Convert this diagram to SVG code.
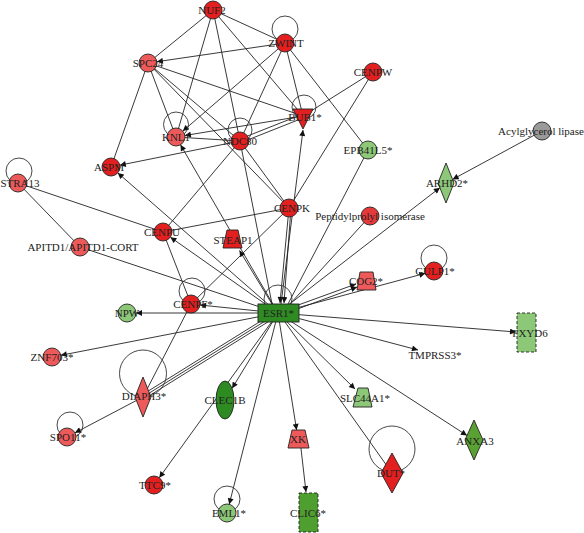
<svg xmlns="http://www.w3.org/2000/svg" width="584" height="533" viewBox="0 0 584 533">
<defs>
<marker id="arr" viewBox="0 0 10 10" refX="10" refY="5" markerWidth="7" markerHeight="6" markerUnits="userSpaceOnUse" orient="auto"><path d="M0,0 L10,5 L0,10 z" fill="#111"/></marker>
<style>
.e{stroke:#222;stroke-width:0.9;fill:none}
.a{stroke:#222;stroke-width:0.9;fill:none;marker-end:url(#arr)}
.lp{stroke:#333;stroke-width:0.9;fill:none}
.n{stroke:#222;stroke-width:0.9}
.d{stroke:#222;stroke-width:0.9;stroke-dasharray:3 2}
.r1{fill:#e3201f}
.r2{fill:#ee5a5a}
.r3{fill:#e63a3a}
.g1{fill:#2e8b22}
.g2{fill:#4f9e30}
.g3{fill:#5aa134}
.g4{fill:#8dc878}
.gy{fill:#9a9a9a}
text{font-family:"Liberation Serif",serif;font-size:11px;fill:#222;text-anchor:middle}
</style>
</defs>
<rect width="584" height="533" fill="#ffffff"/>
<g id="edges">
<line class="e" x1="213" y1="10" x2="148" y2="63"/>
<line class="e" x1="213" y1="10" x2="285" y2="43"/>
<line class="e" x1="213" y1="10" x2="176" y2="137"/>
<line class="e" x1="213" y1="10" x2="240" y2="141"/>
<line class="e" x1="213" y1="10" x2="303" y2="116"/>
<line class="e" x1="285" y1="43" x2="240" y2="141"/>
<line class="e" x1="285" y1="43" x2="303" y2="116"/>
<line class="e" x1="285" y1="43" x2="368" y2="150"/>
<line class="e" x1="148" y1="63" x2="176" y2="137"/>
<line class="e" x1="148" y1="63" x2="303" y2="116"/>
<line class="e" x1="148" y1="63" x2="240" y2="141"/>
<line class="e" x1="148" y1="63" x2="289" y2="208"/>
<line class="e" x1="148" y1="63" x2="111" y2="167"/>
<line class="e" x1="373" y1="72" x2="303" y2="116"/>
<line class="e" x1="373" y1="72" x2="289" y2="208"/>
<line class="e" x1="303" y1="114" x2="240" y2="139"/>
<line class="e" x1="303" y1="118" x2="240" y2="143"/>
<line class="e" x1="240" y1="141" x2="176" y2="137"/>
<line class="e" x1="240" y1="141" x2="163" y2="232"/>
<line class="e" x1="240" y1="141" x2="289" y2="208"/>
<line class="e" x1="240" y1="141" x2="272" y2="304"/>
<line class="e" x1="163" y1="232" x2="289" y2="208"/>
<line class="e" x1="18" y1="183" x2="163" y2="232"/>
<line class="e" x1="18" y1="183" x2="80" y2="247"/>
<line class="e" x1="80" y1="247" x2="278" y2="313"/>
<line class="e" x1="191" y1="304" x2="163" y2="232"/>
<line class="e" x1="191" y1="304" x2="289" y2="208"/>
<line class="e" x1="191" y1="304" x2="143" y2="397"/>
<line class="e" x1="368" y1="150" x2="288" y2="304"/>
<line class="e" x1="370" y1="216" x2="290" y2="304"/>
<line class="e" x1="270" y1="318" x2="149.4" y2="393"/>
<line class="e" x1="271.2" y1="319.9" x2="150.6" y2="394.9"/>
<line class="e" x1="268.8" y1="316.1" x2="148.2" y2="391.1"/>
<line class="e" x1="285" y1="322" x2="392" y2="473"/>
<line class="a" x1="278" y1="313" x2="180.5" y2="144.8"/>
<line class="a" x1="278" y1="313" x2="117.8" y2="172.9"/>
<line class="a" x1="278" y1="313" x2="170.4" y2="237.2"/>
<line class="a" x1="272" y1="304" x2="239.5" y2="250.5"/>
<line class="a" x1="278" y1="313" x2="200" y2="305"/>
<line class="a" x1="278" y1="313" x2="136" y2="313"/>
<line class="a" x1="278" y1="313" x2="60.8" y2="355.3"/>
<line class="a" x1="143" y1="397" x2="75" y2="432.8"/>
<line class="a" x1="278" y1="313" x2="159.3" y2="477.7"/>
<line class="a" x1="278" y1="313" x2="232.1" y2="388.3"/>
<line class="a" x1="278" y1="313" x2="229.2" y2="504.3"/>
<line class="a" x1="278" y1="313" x2="296.6" y2="430"/>
<line class="a" x1="300" y1="440" x2="306" y2="492"/>
<line class="a" x1="278" y1="313" x2="355" y2="389"/>
<line class="a" x1="278" y1="313" x2="467" y2="435.5"/>
<line class="a" x1="278" y1="313" x2="418" y2="350"/>
<line class="a" x1="278" y1="313" x2="516" y2="332"/>
<line class="a" x1="278" y1="313" x2="425.3" y2="273.3"/>
<line class="a" x1="290" y1="308" x2="356" y2="284"/>
<line class="a" x1="292" y1="311" x2="357" y2="287"/>
<line class="a" x1="278" y1="313" x2="439.9" y2="187.7"/>
<line class="a" x1="542" y1="131" x2="452.6" y2="179.4"/>
<line class="a" x1="285" y1="43" x2="156.9" y2="61.7"/>
<line class="a" x1="285" y1="43" x2="182.8" y2="131.1"/>
<line class="a" x1="303" y1="116" x2="184.9" y2="135.5"/>
<line class="a" x1="240" y1="141" x2="119.8" y2="165.2"/>
<line class="a" x1="289" y1="208" x2="280" y2="303"/>
<line class="a" x1="291" y1="208" x2="284" y2="303"/>
<line class="a" x1="281" y1="304" x2="303" y2="130"/>
<circle class="lp" cx="285" cy="29" r="13"/>
<circle class="lp" cx="304" cy="107" r="12"/>
<circle class="lp" cx="240" cy="130" r="12"/>
<circle class="lp" cx="176" cy="124.5" r="12.5"/>
<circle class="lp" cx="19" cy="171" r="13"/>
<circle class="lp" cx="192" cy="291" r="13"/>
<circle class="lp" cx="278" cy="299" r="14"/>
<circle class="lp" cx="434" cy="258" r="13"/>
<circle class="lp" cx="70" cy="425" r="13"/>
<circle class="lp" cx="227" cy="499" r="13"/>
<circle class="lp" cx="143" cy="373.5" r="23.5"/>
<circle class="lp" cx="392" cy="449" r="23"/>
</g>
<g id="NUF2"><circle class="n r1" cx="213" cy="10" r="9"/><text x="212" y="14">NUF2</text></g>
<g id="ZWINT"><circle class="n r1" cx="285" cy="43" r="9"/><text x="286" y="47">ZWINT</text></g>
<g id="SPC24"><circle class="n r2" cx="148" cy="63" r="9"/><text x="148" y="67">SPC24</text></g>
<g id="CENPW"><circle class="n r1" cx="373" cy="72" r="9"/><text x="373" y="76">CENPW</text></g>
<g id="BUB1"><polygon class="n r1" points="293,109 313,109 303,129"/><text x="305" y="121">BUB1*</text></g>
<g id="KNL1"><circle class="n r2" cx="176" cy="137" r="9"/><text x="176" y="141">KNL1</text></g>
<g id="NDC80"><circle class="n r1" cx="240" cy="141" r="9"/><text x="240" y="145">NDC80</text></g>
<g id="EPB41L5"><circle class="n g4" cx="368" cy="150" r="9"/><text x="368" y="154">EPB41L5*</text></g>
<g id="ACYL"><circle class="n gy" cx="542" cy="131" r="9"/><text x="541" y="135">Acylglycerol lipase</text></g>
<g id="ASPM"><circle class="n r1" cx="111" cy="167" r="9"/><text x="109" y="171">ASPM</text></g>
<g id="STRA13"><circle class="n r2" cx="18" cy="183" r="9"/><text x="20" y="187">STRA13</text></g>
<g id="ARHD2"><polygon class="n g4" points="446,163 454,183 446,203 438,183"/><text x="447" y="187">ARHD2*</text></g>
<g id="CENPK"><circle class="n r1" cx="289" cy="208" r="9"/><text x="292" y="212">CENPK</text></g>
<g id="PPI"><circle class="n r3" cx="370" cy="216" r="9"/><text x="370" y="220">Peptidylprolyl isomerase</text></g>
<g id="CENPU"><circle class="n r1" cx="163" cy="232" r="9"/><text x="162" y="236">CENPU</text></g>
<g id="STEAP1"><polygon class="n r1" points="227,230 238,230 242,248 223,248"/><text x="233" y="244">STEAP1</text></g>
<g id="APITD1"><circle class="n r2" cx="80" cy="247" r="9"/><text x="83" y="251">APITD1/APITD1-CORT</text></g>
<g id="COG2"><polygon class="n r2" points="360,272 373,272 376,290 357,290"/><text x="366" y="285">COG2*</text></g>
<g id="GULP1"><circle class="n r1" cx="434" cy="271" r="9"/><text x="435" y="275">GULP1*</text></g>
<g id="CENPF"><circle class="n r1" cx="191" cy="304" r="9"/><text x="193" y="308">CENPF*</text></g>
<g id="NPW"><circle class="n g4" cx="127" cy="313" r="9"/><text x="127" y="317">NPW</text></g>
<g id="ESR1"><rect class="n g1" x="258" y="304" width="41" height="18"/><text x="278.5" y="317">ESR1*</text></g>
<g id="FXYD6"><rect class="d g4" x="517" y="313" width="19" height="39"/><text x="530" y="337">FXYD6</text></g>
<g id="TMPRSS3"><text x="435" y="359">TMPRSS3*</text></g>
<g id="ZNF703"><circle class="n r2" cx="52" cy="357" r="9"/><text x="52" y="361">ZNF703*</text></g>
<g id="DIAPH3"><polygon class="n r2" points="143,377 151,397 143,417 135,397"/><text x="144" y="400">DIAPH3*</text></g>
<g id="CLEC1B"><ellipse class="n g1" cx="225" cy="400" rx="9" ry="19"/><text x="225" y="404">CLEC1B</text></g>
<g id="SLC44A1"><polygon class="n g4" points="358,388 368,388 372,407 353,407"/><text x="365" y="402">SLC44A1*</text></g>
<g id="XK"><polygon class="n r2" points="292,430 305,430 309,448 288,448"/><text x="298" y="443">XK</text></g>
<g id="ANXA3"><polygon class="n g3" points="474,420 483,440 474,460 465,440"/><text x="475" y="445">ANXA3</text></g>
<g id="DUT"><polygon class="n r1" points="392,453 403,473 392,493 381,473"/><text x="391" y="477">DUT*</text></g>
<g id="SPO11"><circle class="n r2" cx="67" cy="437" r="9"/><text x="68" y="441">SPO11*</text></g>
<g id="TTC9"><circle class="n r1" cx="154" cy="485" r="9"/><text x="155" y="489">TTC9*</text></g>
<g id="EML1"><circle class="n g4" cx="227" cy="513" r="9"/><text x="229" y="517">EML1*</text></g>
<g id="CLIC6"><rect class="d g2" x="299" y="493" width="19" height="39"/><text x="308" y="517">CLIC6*</text></g>
</svg>
